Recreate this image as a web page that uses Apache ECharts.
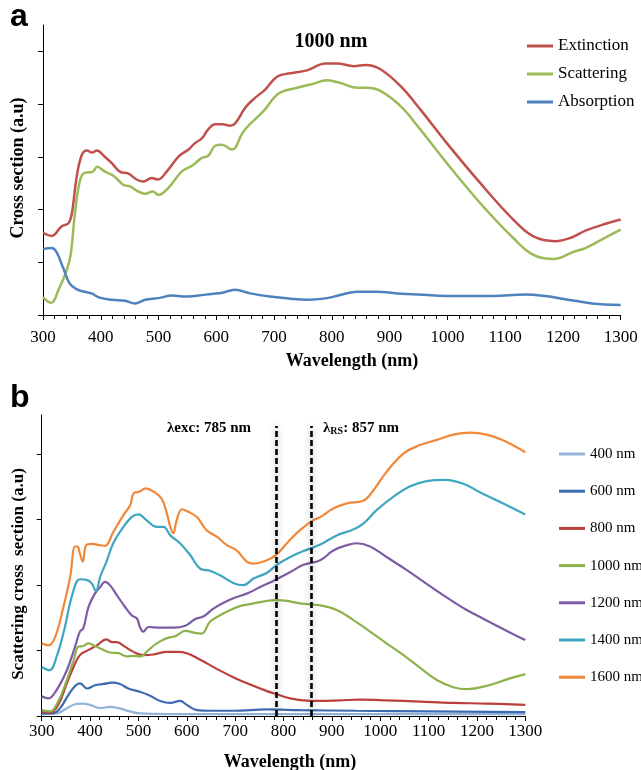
<!DOCTYPE html>
<html>
<head>
<meta charset="utf-8">
<script src="https://cdn.jsdelivr.net/npm/echarts@6/dist/echarts.min.js"></script>
<style>
  html, body { margin: 0; padding: 0; background: #ffffff; }
  #chart { width: 641px; height: 770px; }
</style>
</head>
<body>
<div id="chart"></div>
<script>
// ---- Panel a: 1000 nm particle, cross sections (a.u) vs wavelength (nm)
const extWl = [300, 315, 332, 344, 350, 358, 367, 376, 385, 393, 407, 419, 433, 448, 462, 474, 488, 499, 514, 535, 552, 563, 575, 586, 598, 610, 624, 633, 650, 664, 685, 705, 725, 757, 789, 809, 838, 858, 884, 919, 953, 999, 1057, 1114, 1149, 1187, 1215, 1239, 1274, 1300];
const extVal = [1.56, 1.50, 1.68, 1.74, 1.93, 2.60, 3.03, 3.12, 3.08, 3.12, 3.00, 2.88, 2.72, 2.68, 2.57, 2.53, 2.60, 2.57, 2.72, 3.01, 3.14, 3.26, 3.35, 3.52, 3.62, 3.62, 3.59, 3.64, 3.93, 4.09, 4.28, 4.52, 4.58, 4.64, 4.77, 4.77, 4.72, 4.74, 4.66, 4.34, 3.90, 3.26, 2.50, 1.81, 1.49, 1.40, 1.47, 1.60, 1.73, 1.81];

const scaWl = [300, 314, 327, 341, 348, 355, 364, 373, 385, 394, 407, 422, 439, 451, 462, 477, 490, 500, 517, 540, 558, 575, 586, 598, 610, 627, 633, 647, 682, 708, 740, 763, 792, 815, 844, 861, 884, 919, 953, 999, 1057, 1114, 1149, 1184, 1219, 1239, 1270, 1300];
const scaVal = [0.34, 0.23, 0.48, 0.85, 1.15, 1.90, 2.55, 2.70, 2.71, 2.81, 2.72, 2.64, 2.47, 2.44, 2.36, 2.30, 2.34, 2.28, 2.41, 2.72, 2.83, 2.98, 3.02, 3.21, 3.23, 3.14, 3.17, 3.48, 3.87, 4.20, 4.31, 4.37, 4.45, 4.40, 4.31, 4.31, 4.25, 3.96, 3.52, 2.88, 2.12, 1.46, 1.14, 1.06, 1.20, 1.27, 1.45, 1.62];

const absWl = [300, 315, 323, 335, 346, 358, 372, 384, 398, 419, 442, 459, 477, 500, 523, 546, 569, 592, 610, 632, 659, 693, 728, 757, 792, 815, 844, 878, 913, 948, 1020, 1078, 1135, 1170, 1204, 1250, 1300];
const absVal = [1.25, 1.27, 1.20, 0.89, 0.60, 0.49, 0.44, 0.41, 0.33, 0.29, 0.27, 0.22, 0.29, 0.32, 0.37, 0.35, 0.37, 0.40, 0.42, 0.48, 0.41, 0.35, 0.31, 0.29, 0.32, 0.38, 0.44, 0.44, 0.41, 0.39, 0.36, 0.36, 0.39, 0.36, 0.30, 0.22, 0.19];

// ---- Panel b: scattering cross section for particle sizes 400-1600 nm
const s400Wl = [300, 331, 352, 369, 383, 400, 421, 441, 459, 483, 503, 559, 800, 1300];
const s400Val = [0.03, 0.04, 0.12, 0.18, 0.19, 0.17, 0.12, 0.14, 0.12, 0.07, 0.04, 0.03, 0.03, 0.03];

const s600Wl = [300, 322, 338, 355, 369, 379, 394, 410, 428, 445, 462, 479, 503, 524, 545, 566, 586, 600, 621, 648, 697, 766, 834, 950, 1100, 1300];
const s600Val = [0.04, 0.04, 0.12, 0.32, 0.46, 0.50, 0.42, 0.47, 0.49, 0.51, 0.49, 0.42, 0.37, 0.31, 0.23, 0.20, 0.23, 0.17, 0.09, 0.08, 0.08, 0.10, 0.09, 0.08, 0.07, 0.06];

const s800Wl = [300, 317, 334, 352, 366, 379, 397, 414, 434, 445, 455, 472, 490, 510, 531, 559, 579, 600, 628, 662, 697, 731, 766, 783, 814, 848, 876, 917, 958, 1013, 1082, 1151, 1220, 1300];
const s800Val = [0.07, 0.05, 0.17, 0.50, 0.75, 0.93, 1.01, 1.08, 1.17, 1.13, 1.13, 1.06, 0.98, 0.93, 0.94, 0.98, 0.98, 0.96, 0.86, 0.72, 0.59, 0.48, 0.38, 0.34, 0.27, 0.235, 0.23, 0.24, 0.25, 0.24, 0.22, 0.20, 0.19, 0.17];

const s1000Wl = [300, 317, 334, 352, 366, 376, 386, 397, 410, 428, 441, 459, 476, 490, 503, 521, 538, 559, 576, 597, 617, 631, 648, 669, 690, 710, 738, 766, 786, 807, 834, 876, 910, 944, 979, 1013, 1048, 1082, 1117, 1151, 1179, 1220, 1262, 1300];
const s1000Val = [0.09, 0.07, 0.22, 0.55, 0.85, 1.06, 1.07, 1.11, 1.07, 1.01, 0.97, 0.96, 0.91, 0.92, 0.91, 1.01, 1.11, 1.19, 1.22, 1.30, 1.27, 1.26, 1.44, 1.54, 1.62, 1.68, 1.72, 1.76, 1.77, 1.76, 1.72, 1.69, 1.62, 1.47, 1.29, 1.11, 0.93, 0.74, 0.55, 0.44, 0.41, 0.46, 0.56, 0.64];

const s1200Wl = [300, 314, 331, 352, 369, 379, 386, 397, 410, 421, 431, 441, 455, 472, 486, 497, 503, 510, 521, 545, 572, 597, 617, 634, 655, 676, 700, 724, 752, 783, 814, 841, 876, 903, 931, 951, 979, 1013, 1055, 1096, 1138, 1179, 1220, 1262, 1300];
const s1200Val = [0.30, 0.27, 0.40, 0.70, 1.06, 1.29, 1.34, 1.67, 1.87, 1.97, 2.05, 2.00, 1.85, 1.67, 1.54, 1.49, 1.36, 1.29, 1.36, 1.35, 1.35, 1.38, 1.48, 1.52, 1.64, 1.73, 1.81, 1.87, 1.97, 2.08, 2.20, 2.31, 2.38, 2.53, 2.61, 2.64, 2.59, 2.43, 2.23, 2.02, 1.81, 1.62, 1.46, 1.30, 1.16];

const s1400Wl = [300, 316, 331, 348, 362, 379, 393, 403, 412, 421, 434, 448, 469, 486, 500, 517, 538, 552, 566, 586, 607, 628, 648, 669, 697, 717, 738, 766, 786, 814, 841, 876, 910, 944, 965, 993, 1027, 1062, 1096, 1134, 1172, 1206, 1248, 1300];
const s1400Val = [0.75, 0.70, 0.91, 1.36, 1.82, 2.09, 2.08, 2.03, 1.91, 2.13, 2.36, 2.64, 2.89, 3.04, 3.08, 2.99, 2.89, 2.89, 2.76, 2.64, 2.46, 2.25, 2.22, 2.15, 2.03, 2.00, 2.10, 2.19, 2.31, 2.43, 2.52, 2.62, 2.76, 2.85, 2.94, 3.15, 3.35, 3.51, 3.59, 3.61, 3.55, 3.42, 3.27, 3.08];

const s1600Wl = [300, 314, 328, 345, 359, 369, 374, 379, 385, 392, 403, 421, 431, 448, 469, 483, 490, 503, 515, 531, 548, 559, 566, 572, 579, 590, 603, 621, 641, 662, 683, 703, 724, 738, 759, 783, 807, 834, 861, 876, 903, 931, 965, 986, 1013, 1048, 1082, 1117, 1151, 1186, 1220, 1255, 1300];
const s1600Val = [1.11, 1.08, 1.21, 1.67, 2.13, 2.59, 2.59, 2.48, 2.36, 2.61, 2.63, 2.61, 2.60, 2.81, 3.07, 3.22, 3.40, 3.43, 3.48, 3.43, 3.32, 3.09, 2.89, 2.79, 2.99, 3.16, 3.12, 3.04, 2.84, 2.74, 2.61, 2.53, 2.36, 2.33, 2.36, 2.45, 2.64, 2.84, 2.99, 3.04, 3.17, 3.25, 3.29, 3.45, 3.73, 4.01, 4.14, 4.22, 4.30, 4.33, 4.30, 4.21, 4.03];

// excitation and Raman-scattered wavelengths (nm), and the dashed marker height
const markerWl = [785, 857];
const markerTop = 4.43;

const panelANames = ['Extinction', 'Scattering', 'Absorption'];
const panelBNames = ['400 nm', '600 nm', '800 nm', '1000 nm', '1200 nm', '1400 nm', '1600 nm'];

const serif = '"Liberation Serif", "Times New Roman", serif';
const sans = '"Liberation Sans", Arial, sans-serif';

function zip(xs, ys) { return xs.map((x, i) => [x, ys[i]]); }

function curve(name, wl, val, color, width, axis) {
  return {
    name: name, type: 'line', xAxisIndex: axis, yAxisIndex: axis,
    data: zip(wl, val), showSymbol: false, symbol: 'none',
    smooth: 0.4,
    lineStyle: { color: color, width: width }, itemStyle: { color: color },
    emphasis: { disabled: true }, z: 3
  };
}

function wavelengthAxis(grid, margin) {
  return {
    type: 'value', gridIndex: grid, min: 300, max: 1300, interval: 100,
    axisLine: { show: true, onZero: false, lineStyle: { color: '#000', width: 1 } },
    axisTick: { show: true, inside: false, length: 5, lineStyle: { color: '#000' } },
    minorTick: { show: true, splitNumber: 5, length: 4, lineStyle: { color: '#000' } },
    splitLine: { show: false },
    axisLabel: { color: '#000', fontFamily: serif, fontSize: 17, margin: margin,
                 formatter: v => String(v) }
  };
}

function sectionAxis(grid, max, ticks) {
  return {
    type: 'value', gridIndex: grid, min: 0, max: max, interval: 1,
    axisLine: { show: true, onZero: false, lineStyle: { color: '#000', width: 1 } },
    axisTick: { show: true, inside: false, length: 5, customValues: ticks, lineStyle: { color: '#000' } },
    splitLine: { show: false },
    axisLabel: { show: false }
  };
}

const colorsA = ['#C0504D', '#9BBB59', '#4F81BD'];
const colorsB = ['#95B3D7', '#3C6BB0', '#B9403C', '#8DB24C', '#7D5CA3', '#3FA6C0', '#F0883A'];
const valsA = [[extWl, extVal], [scaWl, scaVal], [absWl, absVal]];
const valsB = [[s400Wl, s400Val], [s600Wl, s600Val], [s800Wl, s800Val], [s1000Wl, s1000Val],
               [s1200Wl, s1200Val], [s1400Wl, s1400Val], [s1600Wl, s1600Val]];

const series = [];
panelANames.forEach((n, i) => series.push(curve(n, valsA[i][0], valsA[i][1], colorsA[i], 2.5, 0)));
panelBNames.forEach((n, i) => series.push(curve(n, valsB[i][0], valsB[i][1], colorsB[i], 2.2, 1)));

// dashed vertical markers for the excitation / Raman wavelengths
series.push({
  name: 'markers', type: 'line', xAxisIndex: 1, yAxisIndex: 1, data: [],
  markLine: {
    silent: true, symbol: 'none', animation: false,
    label: { show: false },
    lineStyle: { color: '#000', width: 2.6, type: [6, 3],
                 shadowBlur: 6, shadowColor: 'rgba(0,0,0,0.35)' },
    data: markerWl.map(w => [{ coord: [w, 0] }, { coord: [w, markerTop] }])
  },
  z: 5
});

function legendBlock(names, left, top, gap, size) {
  return {
    data: names, orient: 'vertical', left: left, top: top, padding: 0,
    icon: 'rect', itemWidth: 26, itemHeight: 3, itemGap: gap,
    selectedMode: false,
    textStyle: { fontFamily: serif, fontSize: size, color: '#000', lineHeight: 20 }
  };
}

const bold = { fontFamily: serif, fontWeight: 'bold', fill: '#000' };

const option = {
  animation: false,
  backgroundColor: '#ffffff',
  grid: [
    { left: 43, top: 25, width: 577.7, height: 290 },
    { left: 41.7, top: 415, width: 483.6, height: 301 }
  ],
  xAxis: [wavelengthAxis(0, 14), wavelengthAxis(1, 7)],
  yAxis: [sectionAxis(0, 5.5, [0, 1, 2, 3, 4, 5]), sectionAxis(1, 4.6, [0, 1, 2, 3, 4])],
  legend: [
    legendBlock(panelANames, 527, 36, 8, 17),
    legendBlock(panelBNames, 559, 444, 17.2, 15)
  ],
  series: series,
  graphic: [
    { type: 'text', x: 10, y: 33, style: { text: 'a', font: 'bold 32px ' + sans, fill: '#000', verticalAlign: 'bottom' } },
    { type: 'text', x: 10, y: 414, style: { text: 'b', font: 'bold 32px ' + sans, fill: '#000', verticalAlign: 'bottom' } },
    { type: 'text', x: 331, y: 42, style: Object.assign({ text: '1000 nm', fontSize: 20, align: 'center', verticalAlign: 'middle' }, bold) },
    { type: 'text', x: 352, y: 361, style: Object.assign({ text: 'Wavelength (nm)', fontSize: 18, align: 'center', verticalAlign: 'middle' }, bold) },
    { type: 'text', x: 290, y: 762, style: Object.assign({ text: 'Wavelength (nm)', fontSize: 18, align: 'center', verticalAlign: 'middle' }, bold) },
    { type: 'text', x: 18, y: 168, rotation: Math.PI / 2, style: Object.assign({ text: 'Cross section (a.u)', fontSize: 18, align: 'center', verticalAlign: 'middle' }, bold) },
    { type: 'text', x: 19, y: 574, rotation: Math.PI / 2, style: Object.assign({ text: 'Scattering cross  section (a.u)', fontSize: 17, align: 'center', verticalAlign: 'middle' }, bold) },
    { type: 'text', x: 167, y: 428, style: Object.assign({ text: 'λexc: 785 nm', fontSize: 15, verticalAlign: 'middle' }, bold) },
    { type: 'text', x: 323, y: 428, style: {
        text: '{m|λ}{s|RS}{m|: 857 nm}', verticalAlign: 'middle',
        rich: {
          m: { fontFamily: serif, fontWeight: 'bold', fontSize: 15, fill: '#000' },
          s: { fontFamily: serif, fontWeight: 'bold', fontSize: 10, fill: '#000', padding: [7, 0, 0, 0] }
        }
      } }
  ]
};

const chart = echarts.init(document.getElementById('chart'), null, { renderer: 'canvas' });
chart.setOption(option);
</script>
</body>
</html>
